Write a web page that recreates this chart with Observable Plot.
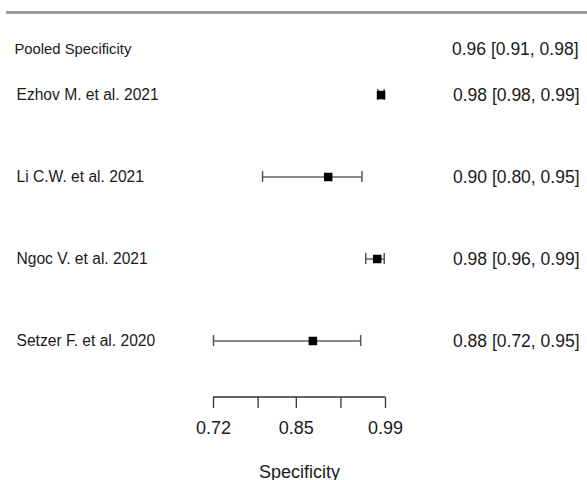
<!DOCTYPE html>
<html>
<head>
<meta charset="utf-8">
<script src="https://cdn.jsdelivr.net/npm/d3@7"></script>
<script src="https://cdn.jsdelivr.net/npm/@observablehq/plot@0.6"></script>
<style>
  html, body { margin: 0; padding: 0; background: #fff; }
  #chart svg { display: block; font-family: "Liberation Sans", Arial, sans-serif; }
</style>
</head>
<body>
<div id="chart"></div>
<script>
// ---- data ----
const studies   = ["Ezhov M. et al. 2021", "Li C.W. et al. 2021", "Ngoc V. et al. 2021", "Setzer F. et al. 2020"];
const estimates = [0.983, 0.900, 0.977, 0.876];
const lower     = [0.978, 0.797, 0.959, 0.720];
const upper     = [0.988, 0.953, 0.988, 0.951];
const ciLabels  = ["0.98 [0.98, 0.99]", "0.90 [0.80, 0.95]", "0.98 [0.96, 0.99]", "0.88 [0.72, 0.95]"];
const pooledLabel = "Pooled Specificity";
const pooledText  = "0.96 [0.91, 0.98]";
const xDomain     = [0.72, 0.99];
const tickValues  = [0.72, 0.79, 0.85, 0.92, 0.99];
const tickLabels  = ["0.72", "", "0.85", "", "0.99"];
const axisTitle   = "Specificity";

const rows = studies.map((s, i) => ({study: s, est: estimates[i], lo: lower[i], hi: upper[i], ci: ciLabels[i]}));

function findArg(args, test) { return args.find(a => a && typeof a === "object" && test(a)); }

// decoration: grey rule across the top of the figure
function topRule(...args) {
  const dims = findArg(args, a => "marginLeft" in a && "width" in a) || {width: 587};
  return d3.create("svg:line")
    .attr("x1", 6).attr("x2", dims.width)
    .attr("y1", 12.5).attr("y2", 12.5)
    .attr("stroke", "#9a9a9a").attr("stroke-width", 3)
    .node();
}
// axis baseline spanning the x domain
function axisLine(...args) {
  const dims = findArg(args, a => "marginLeft" in a && "width" in a);
  const scales = findArg(args, a => typeof a.x === "function");
  const y = dims.height - dims.marginBottom;
  return d3.create("svg:line")
    .attr("x1", scales.x(xDomain[0])).attr("x2", scales.x(xDomain[1]))
    .attr("y1", y).attr("y2", y)
    .attr("stroke", "#333").attr("stroke-width", 1.3)
    .node();
}

const W = 587, H = 480;
const mL = 213, mR = W - 385, mT = 49, mB = 83;

const chart = Plot.plot({
  width: W,
  height: H,
  marginLeft: mL,
  marginRight: mR,
  marginTop: mT,
  marginBottom: mB,
  style: {fontFamily: "Liberation Sans, Arial, sans-serif", background: "#fff"},
  x: {domain: xDomain, axis: null},
  y: {type: "band", domain: studies, range: [89, 346.8], paddingInner: 0.8663, paddingOuter: 0, axis: null},
  marks: [
    topRule,
    Plot.axisX({
      anchor: "bottom",
      ticks: tickValues,
      tickSize: 11,
      tickPadding: 13,
      tickFormat: (d) => tickLabels[tickValues.indexOf(d)] ?? "",
      fontSize: 18,
      stroke: "#333",
      strokeWidth: 1.3,
      fill: "#1a1a1a",
      label: axisTitle,
      labelAnchor: "center",
      labelOffset: 80,
      labelArrow: "none"
    }),
    axisLine,
    // pooled header row
    Plot.text([pooledLabel], {frameAnchor: "top-left", lineAnchor: "middle", textAnchor: "start", dx: 14 - mL, fontSize: 14.8, fill: "#1a1a1a"}),
    Plot.text([pooledText], {frameAnchor: "top-right", lineAnchor: "middle", textAnchor: "end", dx: 578 - 385, fontSize: 17.5, fill: "#1a1a1a"}),
    // confidence intervals
    Plot.ruleY(rows, {y: "study", x1: "lo", x2: "hi", stroke: "#8a8a8a", strokeWidth: 2.2}),
    Plot.tickX(rows, {x: "lo", y: "study", stroke: "#555", strokeWidth: 1.5}),
    Plot.tickX(rows, {x: "hi", y: "study", stroke: "#555", strokeWidth: 1.5}),
    // point estimates
    Plot.dot(rows, {x: "est", y: "study", symbol: "square", r: 4.8, fill: "#000", stroke: "none"}),
    // study labels
    Plot.text(rows, {y: "study", text: "study", frameAnchor: "left", textAnchor: "start", dx: 16 - mL, fontSize: 15.6, fill: "#1a1a1a"}),
    Plot.text(rows, {y: "study", text: "ci", frameAnchor: "right", textAnchor: "end", dx: 579 - 385, fontSize: 17.5, fill: "#1a1a1a"})
  ]
});

document.getElementById("chart").appendChild(chart);
</script>
</body>
</html>
